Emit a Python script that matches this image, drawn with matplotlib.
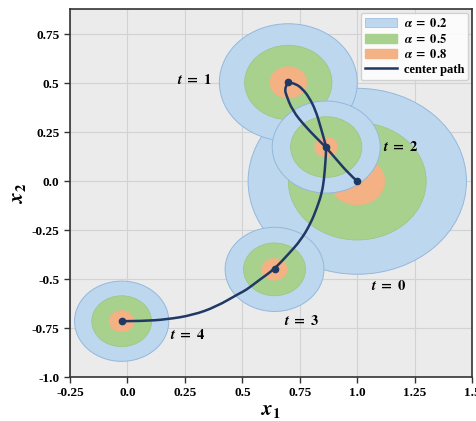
import numpy as np
import matplotlib
matplotlib.use("Agg")
from matplotlib import pyplot as plt
from matplotlib.patches import Circle, Patch, PathPatch
from matplotlib.path import Path
from matplotlib.lines import Line2D

# centers of the distribution at each time step
times = [0, 1, 2, 3, 4]
cx = [1.0, 0.70, 0.865, 0.64, -0.025]
cy = [0.0, 0.505, 0.175, -0.45, -0.715]

# radii of the confidence regions (alpha = 0.2, 0.5, 0.8)
r_02 = [0.475, 0.30, 0.235, 0.215, 0.205]
r_05 = [0.30, 0.19, 0.155, 0.135, 0.13]
r_08 = [0.12, 0.08, 0.05, 0.055, 0.054]

# center path
path_x = [1.0, 0.963, 0.9125, 0.865, 0.8475, 0.776, 0.7175, 0.689, 0.686, 0.689, 0.70,
          0.732, 0.761, 0.790, 0.819, 0.8406, 0.859, 0.865, 0.862, 0.855, 0.845,
          0.826, 0.797, 0.754, 0.703, 0.638, 0.573, 0.516, 0.4866, 0.386, 0.284,
          0.169, 0.068, -0.025]
path_y = [0.0, 0.039, 0.107, 0.172, 0.192, 0.277, 0.362, 0.447, 0.465, 0.485, 0.505,
          0.498, 0.473, 0.43, 0.362, 0.277, 0.2005, 0.172, 0.107, 0.005, -0.063,
          -0.131, -0.216, -0.301, -0.369, -0.45, -0.505, -0.556, -0.573, -0.641, -0.684,
          -0.706, -0.714, -0.715]

# label positions
lab_x = [1.136, 0.292, 1.187, 0.758, 0.263]
lab_y = [-0.536, 0.52, 0.175, -0.713, -0.786]

xticks = [-0.25, 0.0, 0.25, 0.5, 0.75, 1.0, 1.25, 1.5]
xtick_labels = ["-0.25", "0.0", "0.25", "0.5", "0.75", "1.0", "1.25", "1.5"]
yticks = [-1.0, -0.75, -0.5, -0.25, 0.0, 0.25, 0.5, 0.75]
ytick_labels = ["-1.0", "-0.75", "-0.5", "-0.25", "0.0", "0.25", "0.5", "0.75"]

blue = "#bdd7ee"
green = "#a9d18e"
orange = "#f4b183"
navy = "#1f3864"

plt.rcParams["font.family"] = ["Liberation Serif", "DejaVu Serif"]
plt.rcParams["font.weight"] = "bold"
plt.rcParams["mathtext.fontset"] = "stix"

fig = plt.figure(figsize=(4.76, 4.21), dpi=100)
ax = fig.add_axes([0.147, 0.1045, 0.845, 0.874])
ax.set_facecolor("#ebebeb")
ax.grid(True, color="#d2d2d2", linewidth=0.8, zorder=0)
ax.set_axisbelow(True)

z = 2
for i in range(len(times)):
    ax.add_patch(Circle((cx[i], cy[i]), r_02[i], facecolor=blue, edgecolor="#94b8dc", lw=0.7, zorder=z))
    ax.add_patch(Circle((cx[i], cy[i]), r_05[i], facecolor=green, edgecolor="#9cc47f", lw=0.5, zorder=z + 0.1))
    ax.add_patch(Circle((cx[i], cy[i]), r_08[i], facecolor=orange, edgecolor=orange, lw=0.5, zorder=z + 0.2))
    z += 1

# smooth the read points: quadratic curves through midpoints, read points as controls
pts = np.column_stack([path_x, path_y])
verts = [pts[0]]
codes = [Path.MOVETO]
for k in range(1, len(pts) - 1):
    mid = (pts[k] + pts[k + 1]) / 2 if k < len(pts) - 2 else pts[k + 1]
    verts += [pts[k], mid]
    codes += [Path.CURVE3, Path.CURVE3]
ax.add_patch(PathPatch(Path(verts, codes), facecolor="none", edgecolor=navy, lw=1.8,
                       zorder=20, capstyle="round", joinstyle="round"))
ax.plot(cx, cy, "o", color=navy, ms=4.5, zorder=21)

for i, t in enumerate(times):
    ax.text(lab_x[i], lab_y[i], r"$\mathbfit{t}\;\mathbf{=}\;\mathbf{%d}$" % t, fontsize=10.5,
            ha="center", va="center", zorder=22)

ax.set_xlim(-0.25, 1.5)
ax.set_ylim(-1.0, 0.88)
ax.set_xticks(xticks)
ax.set_xticklabels(xtick_labels)
ax.set_yticks(yticks)
ax.set_yticklabels(ytick_labels)
ax.tick_params(labelsize=9.5, length=4, width=1, color="#333333", direction="out")
for lab in ax.get_xticklabels() + ax.get_yticklabels():
    lab.set_fontweight("bold")
for s in ax.spines.values():
    s.set_color("#333333")
    s.set_linewidth(1.2)

ax.set_xlabel(r"$\mathbfit{x}_\mathbf{1}$", fontsize=15, labelpad=1)
ax.set_ylabel(r"$\mathbfit{x}_\mathbf{2}$", fontsize=15, labelpad=3)

handles = [Patch(facecolor=blue, edgecolor="#94b8dc", lw=0.5),
           Patch(facecolor=green, edgecolor=green),
           Patch(facecolor=orange, edgecolor=orange),
           Line2D([0], [0], color=navy, lw=1.8)]
labels = [r"$\mathbfit{\alpha}\;\mathbf{=}\;\mathbf{0.2}$", r"$\mathbfit{\alpha}\;\mathbf{=}\;\mathbf{0.5}$",
          r"$\mathbfit{\alpha}\;\mathbf{=}\;\mathbf{0.8}$", "center path"]
leg = ax.legend(handles, labels, loc="upper right", fontsize=9, framealpha=0.85,
                borderaxespad=0.3, handlelength=2.6, labelspacing=0.2, handletextpad=0.5,
                borderpad=0.35)
for txt in leg.get_texts():
    txt.set_fontweight("bold")
leg.set_zorder(30)

fig.savefig("out.png", dpi=100)
